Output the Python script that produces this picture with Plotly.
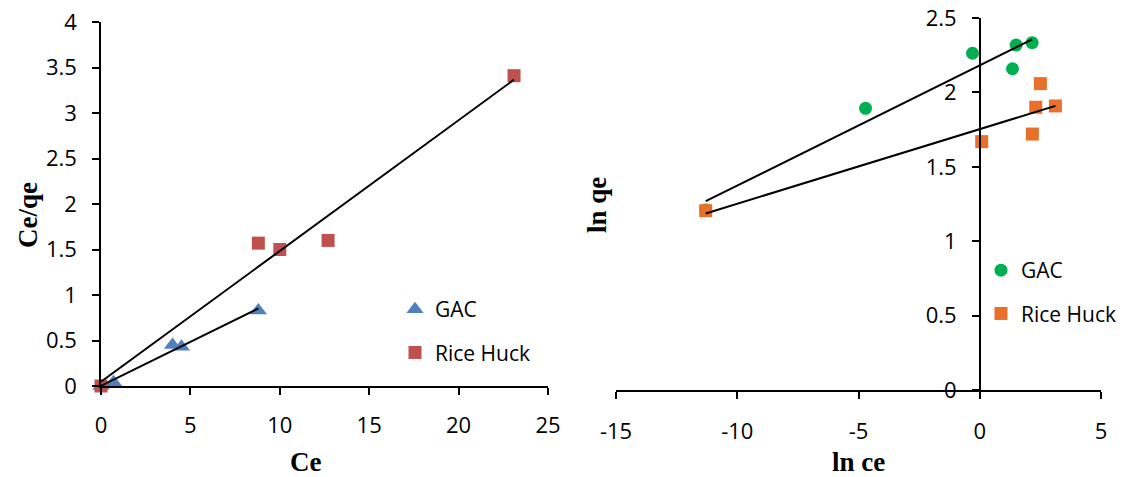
import numpy as np
import plotly.graph_objects as go

W, H = 1128, 477

# ---------------- data: left chart (Langmuir: Ce/qe vs Ce) ----------------
gac_ce = [0.0, 0.7, 4.0, 4.5, 8.8]
gac_ceqe = [0.0, 0.04, 0.45, 0.43, 0.83]
rice_ce = [0.0, 8.8, 10.0, 12.7, 23.1]
rice_ceqe = [0.0, 1.57, 1.50, 1.60, 3.41]

# ---------------- data: right chart (Freundlich: ln qe vs ln ce) ----------------
gac_lnce = [-11.3, -4.71, -0.30, 1.35, 1.50, 2.16]
gac_lnqe = [1.21, 1.893, 2.263, 2.159, 2.318, 2.334]
rice_lnce = [-11.3, 0.08, 2.17, 2.31, 2.50, 3.12]
rice_lnqe = [1.205, 1.669, 1.720, 1.900, 2.059, 1.909]

right_xticks = [-15, -10, -5, 0, 5]
right_xticklabels = ["-15", "-10", "-5", "0", "5"]

# colours
C_GAC_L = "#4F81BD"
C_RICE_L = "#C0504D"
C_GAC_R = "#00B050"
C_RICE_R = "#E8702A"

TICKFONT = dict(family="Open Sans", size=22, color="#000000")
LEGFONT = dict(family="Open Sans", size=21, color="#000000")
TITLEFONT = dict(family="Liberation Serif", size=27, color="#000000")


def trend(x, y):
    x = np.asarray(x, float)
    y = np.asarray(y, float)
    m, b = np.polyfit(x, y, 1)
    xs = np.array([x.min(), x.max()])
    return xs, m * xs + b


fig = go.Figure()

# left chart markers
fig.add_trace(go.Scatter(x=gac_ce, y=gac_ceqe, mode="markers", name="GAC",
                         marker=dict(symbol="triangle-up", size=15, color=C_GAC_L),
                         xaxis="x", yaxis="y", legend="legend", legendgroup="a",
                         cliponaxis=False))
fig.add_trace(go.Scatter(x=rice_ce, y=rice_ceqe, mode="markers", name="Rice Huck",
                         marker=dict(symbol="square", size=13, color=C_RICE_L),
                         xaxis="x", yaxis="y", legend="legend", legendgroup="b",
                         cliponaxis=False))
for xs, ys in (trend(gac_ce, gac_ceqe), trend(rice_ce, rice_ceqe)):
    fig.add_trace(go.Scatter(x=xs, y=ys, mode="lines", showlegend=False,
                             line=dict(color="#000000", width=2),
                             xaxis="x", yaxis="y", cliponaxis=False))

# right chart markers
fig.add_trace(go.Scatter(x=gac_lnce, y=gac_lnqe, mode="markers", name="GAC",
                         marker=dict(symbol="circle", size=13, color=C_GAC_R),
                         xaxis="x2", yaxis="y2", legend="legend2", legendgroup="c",
                         cliponaxis=False))
fig.add_trace(go.Scatter(x=rice_lnce, y=rice_lnqe, mode="markers", name="Rice Huck",
                         marker=dict(symbol="square", size=13, color=C_RICE_R),
                         xaxis="x2", yaxis="y2", legend="legend2", legendgroup="d",
                         cliponaxis=False))
for xs, ys in (trend(gac_lnce, gac_lnqe), trend(rice_lnce, rice_lnqe)):
    fig.add_trace(go.Scatter(x=xs, y=ys, mode="lines", showlegend=False,
                             line=dict(color="#000000", width=2),
                             xaxis="x2", yaxis="y2", cliponaxis=False))

# domains (paper fractions)
L_x = [101 / W, 548 / W]
L_y = [1 - 386 / H, 1 - 22 / H]
R_x = [616 / W, 1101 / W]
R_y = [1 - 390 / H, 1 - 18 / H]
R_xrange = [-15, 5]
# vertical axis of right chart sits at ln ce = 0
r_pos = R_x[0] + (0 - R_xrange[0]) / (R_xrange[1] - R_xrange[0]) * (R_x[1] - R_x[0])

axis_common = dict(showgrid=False, zeroline=False, showline=True, linecolor="#000000",
                   linewidth=1.5, ticks="outside", ticklen=7, tickwidth=1.5,
                   tickcolor="#000000", tickfont=TICKFONT, automargin=False)

fig.update_layout(
    width=W, height=H, margin=dict(l=0, r=0, t=0, b=0, autoexpand=False),
    paper_bgcolor="white", plot_bgcolor="white",
    xaxis=dict(domain=L_x, range=[0, 25], dtick=5, anchor="y",
               ticklabelstandoff=12, **axis_common),
    yaxis=dict(domain=L_y, range=[0, 4], dtick=0.5, anchor="x",
               ticklabelstandoff=11, **axis_common),
    xaxis2=dict(domain=R_x, range=R_xrange, tickvals=right_xticks,
                ticktext=right_xticklabels, anchor="y2",
                ticklabelstandoff=14, **axis_common),
    yaxis2=dict(domain=R_y, range=[0, 2.5], dtick=0.5, anchor="free", position=r_pos,
                ticklabelstandoff=11, **axis_common),
    legend=dict(x=395 / W, y=1 - 289 / H, xanchor="left", yanchor="top",
                bgcolor="rgba(0,0,0,0)", font=LEGFONT, traceorder="grouped",
                tracegroupgap=13),
    legend2=dict(x=981 / W, y=1 - 250 / H, xanchor="left", yanchor="top",
                 bgcolor="rgba(0,0,0,0)", font=LEGFONT, traceorder="grouped",
                 tracegroupgap=13),
    annotations=[
        dict(text="<b>Ce/qe</b>", x=28 / W, y=1 - 215 / H, xref="paper", yref="paper",
             textangle=-90, showarrow=False, font=TITLEFONT, xanchor="center", yanchor="middle"),
        dict(text="<b>Ce</b>", x=305 / W, y=1 - 462 / H, xref="paper", yref="paper",
             showarrow=False, font=TITLEFONT, xanchor="center", yanchor="middle"),
        dict(text="<b>ln qe</b>", x=597 / W, y=1 - 205 / H, xref="paper", yref="paper",
             textangle=-90, showarrow=False, font=TITLEFONT, xanchor="center", yanchor="middle"),
        dict(text="<b>ln ce</b>", x=858 / W, y=1 - 462 / H, xref="paper", yref="paper",
             showarrow=False, font=TITLEFONT, xanchor="center", yanchor="middle"),
    ],
)

fig.write_html("out.html")
